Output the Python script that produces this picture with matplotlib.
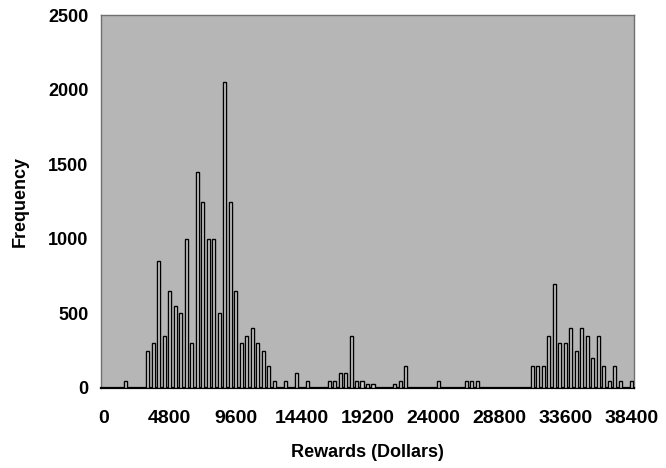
import matplotlib
matplotlib.use("Agg")
import matplotlib.pyplot as plt

# Reward bins (dollars, bin width 400) and observed frequencies (non-zero bins only)
rewards = [1600,
           3200, 3600, 4000, 4400, 4800, 5200, 5600, 6000, 6400, 6800, 7200, 7600,
           8000, 8400, 8800, 9200, 9600, 10000, 10400, 10800, 11200, 11600, 12000, 12400,
           13200, 14000, 14800,
           16400, 16800, 17200, 17600, 18000, 18400, 18800, 19200, 19600,
           21200, 21600, 22000,
           24400,
           26400, 26800, 27200,
           31200, 31600, 32000, 32400, 32800, 33200, 33600, 34000, 34400, 34800,
           35200, 35600, 36000, 36400, 36800, 37200, 37600, 38400]
frequency = [50,
             250, 300, 850, 350, 650, 550, 500, 1000, 300, 1450, 1250, 1000,
             1000, 500, 2050, 1250, 650, 300, 350, 400, 300, 250, 150, 50,
             50, 100, 50,
             50, 50, 100, 100, 350, 50, 50, 25, 25,
             25, 50, 150,
             50,
             50, 50, 50,
             150, 150, 150, 350, 700, 300, 300, 400, 250, 400,
             350, 200, 350, 150, 50, 150, 50, 50]
x_ticks = [0, 4800, 9600, 14400, 19200, 24000, 28800, 33600, 38400]
y_ticks = [0, 500, 1000, 1500, 2000, 2500]
bin_width = 400

plt.rcParams['font.family'] = ['Liberation Sans', 'DejaVu Sans']

fig = plt.figure(figsize=(6.66, 4.68), dpi=100)
ax = fig.add_axes([101/666, 1-388/468, (634-101)/666, (388-15)/468])
ax.set_facecolor('#b6b6b6')

ax.bar(rewards, frequency, width=bin_width*0.55, color='#d4d4d4',
       edgecolor='black', linewidth=1.0, zorder=3)

ax.set_xlim(-200, 38600)
ax.set_ylim(0, 2500)
ax.set_xticks(x_ticks)
ax.set_xticklabels([str(v) for v in x_ticks], fontsize=14, fontweight='bold')
ax.set_yticks(y_ticks)
ax.set_yticklabels([str(v) for v in y_ticks], fontsize=13, fontweight='bold')
ax.tick_params(axis='x', length=0, pad=16)
ax.tick_params(axis='y', length=0, pad=9)

for s in ['left', 'top', 'right']:
    ax.spines[s].set_color('#707070')
    ax.spines[s].set_linewidth(1.0)
ax.spines['bottom'].set_color('black')
ax.spines['bottom'].set_linewidth(1.6)

ax.set_xlabel('Rewards (Dollars)', fontsize=13, fontweight='bold', labelpad=12)
ax.set_ylabel('Frequency', fontsize=13, fontweight='bold', labelpad=14)

fig.savefig('out.png', dpi=100)
